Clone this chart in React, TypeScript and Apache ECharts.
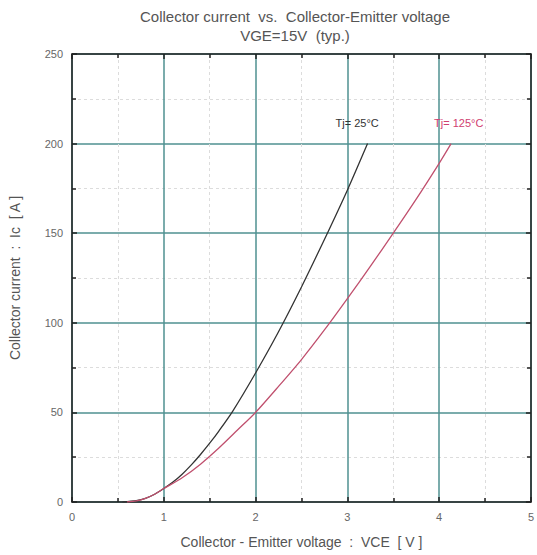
import React, { useEffect, useRef } from "react";
import * as echarts from "echarts";

const xTicks = [0, 1, 2, 3, 4, 5];
const yTicks = [0, 50, 100, 150, 200, 250];

const vce25 = [0.55, 0.7, 0.8, 0.9, 1.0, 1.1, 1.2, 1.3, 1.4, 1.5, 1.6, 1.75, 2.0, 2.25, 2.5, 2.75, 3.0, 3.22];
const ic25 = [0, 0.8, 2, 4.3, 7.5, 11.1, 15.5, 20.7, 26.5, 32.8, 39.6, 50.6, 72, 95, 120, 146.5, 174, 200];

const vce125 = [0.6, 0.7, 0.8, 0.9, 1.0, 1.2, 1.4, 1.6, 1.8, 2.0, 2.25, 2.5, 2.75, 3.0, 3.25, 3.5, 3.75, 4.0, 4.13];
const ic125 = [0, 0.6, 2, 4.3, 7.5, 13.5, 21.1, 30.1, 40, 50, 64.5, 79.5, 96, 113.5, 131.5, 150, 169, 189, 200];

const labels = ["Tj= 25°C", "Tj= 125°C"];

export default function App() {
  const ref = useRef<HTMLDivElement>(null);
  useEffect(() => {
    const chart = echarts.init(ref.current!, null, { renderer: "svg" });
    const font = "Liberation Sans, Arial, sans-serif";
    const tickLabel = { color: "#666", fontSize: 11, fontFamily: font };
    const frameAxis = (pos: string) => ({
      type: "value",
      position: pos,
      min: 0,
      max: pos === "top" ? 5 : 250,
      interval: pos === "top" ? 1 : 50,
      axisLine: { show: true, onZero: false, lineStyle: { color: "#222", width: 1.5 } },
      axisTick: { show: true, inside: true, length: 5, lineStyle: { color: "#222", width: 1.5 } },
      minorTick: { show: true, splitNumber: 2, length: 4, lineStyle: { color: "#222", width: 1.5 } },
      axisLabel: { show: false },
      splitLine: { show: false },
    });
    chart.setOption({
      animation: false,
      backgroundColor: "#fff",
      title: {
        text: "Collector current  vs.  Collector-Emitter voltage",
        subtext: "VGE=15V  (typ.)",
        left: 290,
        textAlign: "center",
        top: 4,
        itemGap: 4,
        textStyle: { fontSize: 15, fontWeight: "normal", color: "#555", fontFamily: font },
        subtextStyle: { fontSize: 15, color: "#555", fontFamily: font },
      },
      grid: { left: 71, right: 3, top: 54, bottom: 53 },
      xAxis: [
        {
          type: "value",
          min: 0,
          max: 5,
          interval: 1,
          data: xTicks,
          name: "Collector - Emitter voltage  :  VCE  [ V ]",
          nameLocation: "middle",
          nameGap: 33,
          nameTextStyle: { color: "#555", fontSize: 14, fontFamily: font },
          axisLine: { show: true, onZero: false, lineStyle: { color: "#222", width: 1.5 } },
          axisTick: { show: true, inside: true, length: 5, lineStyle: { color: "#222", width: 1.5 } },
          minorTick: { show: true, splitNumber: 2, length: 4, lineStyle: { color: "#222", width: 1.5 } },
          axisLabel: { ...tickLabel, margin: 9 },
          splitLine: { show: true, lineStyle: { color: "#4f9090", width: 1.5 } },
          minorSplitLine: { show: true, lineStyle: { color: "#dcdcdc", width: 1, type: [3, 3] } },
        },
        frameAxis("top"),
      ],
      yAxis: [
        {
          type: "value",
          min: 0,
          max: 250,
          interval: 50,
          data: yTicks,
          name: "Collector current  :  Ic  [ A ]",
          nameLocation: "middle",
          nameGap: 50,
          nameTextStyle: { color: "#555", fontSize: 14, fontFamily: font },
          axisLine: { show: true, onZero: false, lineStyle: { color: "#222", width: 1.5 } },
          axisTick: { show: true, inside: true, length: 5, lineStyle: { color: "#222", width: 1.5 } },
          minorTick: { show: true, splitNumber: 2, length: 4, lineStyle: { color: "#222", width: 1.5 } },
          axisLabel: { ...tickLabel, margin: 9 },
          splitLine: { show: true, lineStyle: { color: "#4f9090", width: 1.5 } },
          minorSplitLine: { show: true, lineStyle: { color: "#dcdcdc", width: 1, type: [3, 3] } },
        },
        frameAxis("right"),
      ],
      series: [
        {
          name: labels[0],
          type: "line",
          smooth: 0.25,
          showSymbol: false,
          data: vce25.map((v, i) => [v, ic25[i]]),
          lineStyle: { color: "#333", width: 1.3 },
          endLabel: {
            show: true,
            formatter: labels[0],
            color: "#333",
            fontSize: 11,
            fontFamily: font,
            offset: [-40, -21],
          },
          z: 5,
        },
        {
          name: labels[1],
          type: "line",
          smooth: 0.25,
          showSymbol: false,
          data: vce125.map((v, i) => [v, ic125[i]]),
          lineStyle: { color: "#c0506e", width: 1.3 },
          endLabel: {
            show: true,
            formatter: labels[1],
            color: "#d04070",
            fontSize: 11,
            fontFamily: font,
            offset: [-25, -21],
          },
          z: 5,
        },
      ],
    });
    return () => chart.dispose();
  }, []);
  return (
    <div
      ref={ref}
      style={{ position: "fixed", left: 0, top: 0, width: 537, height: 555, background: "#fff" }}
    />
  );
}
